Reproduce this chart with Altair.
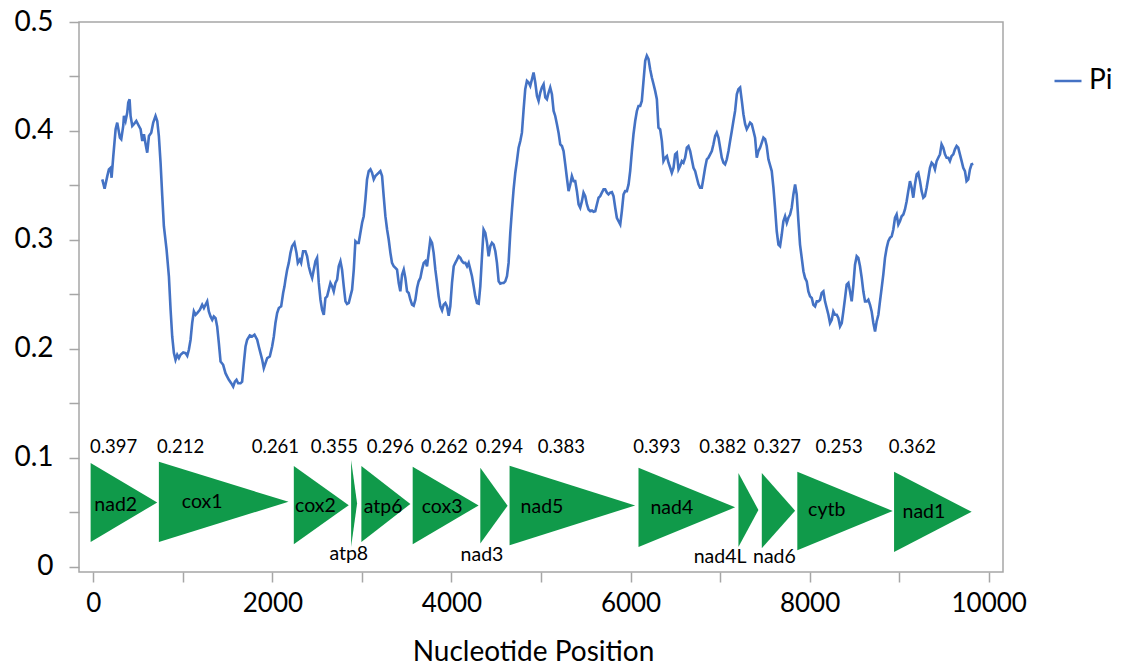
import altair as alt
import pandas as pd

# ---- nucleotide diversity (Pi) sliding window ----
position = [
    100, 126, 156, 174, 193, 204, 223, 249, 267, 297, 312, 334, 342, 360, 379, 390, 405, 416, 435, 453,
    480, 509, 528, 547, 565, 584, 602, 621, 647, 669, 695, 714, 732, 751, 770, 788, 818, 844, 863, 881,
    900, 918, 937, 956, 974, 1004, 1030, 1049, 1067, 1086, 1104, 1123, 1142, 1160, 1190, 1216, 1235, 1253, 1272, 1290,
    1309, 1328, 1346, 1365, 1383, 1402, 1421, 1450, 1476, 1495, 1514, 1540, 1562, 1581, 1599, 1618, 1644, 1662, 1681, 1700,
    1718, 1748, 1774, 1800, 1830, 1848, 1867, 1886, 1904, 1923, 1942, 1971, 1997, 2016, 2034, 2053, 2072, 2098, 2120, 2135,
    2146, 2165, 2183, 2202, 2220, 2246, 2269, 2284, 2306, 2321, 2343, 2369, 2388, 2406, 2425, 2444, 2462, 2481, 2499,
    2518, 2537, 2555, 2574, 2592, 2611, 2630, 2648, 2667, 2685, 2704, 2723, 2741, 2760, 2778, 2797, 2816, 2834, 2853, 2871,
    2890, 2909, 2927, 2946, 2964, 2983, 3002, 3020, 3039, 3057, 3076, 3095, 3113, 3132, 3150, 3169, 3188, 3206, 3225, 3243,
    3262, 3281, 3299, 3318, 3336, 3355, 3374, 3392, 3411, 3429, 3448, 3467, 3485, 3504, 3522, 3541, 3560, 3578, 3597, 3616,
    3634, 3653, 3671, 3690, 3709, 3727, 3746, 3764, 3783, 3801, 3820, 3839, 3857, 3876, 3895, 3913, 3932, 3950, 3969, 3987,
    4006, 4025, 4043, 4062, 4080, 4099, 4118, 4136, 4155, 4174, 4192, 4211, 4229, 4248, 4266, 4285, 4304, 4322, 4341, 4359,
    4378, 4397, 4415, 4434, 4452, 4471, 4490, 4508, 4527, 4545, 4564, 4583, 4601, 4620, 4638, 4657, 4676, 4694, 4713, 4731,
    4750, 4769, 4787, 4806, 4824, 4843, 4862, 4880, 4899, 4917, 4936, 4955, 4973, 4992, 5010,
    5029, 5048, 5066, 5085, 5103, 5122, 5141, 5159, 5178, 5196, 5215, 5234, 5252, 5271, 5289, 5308, 5327, 5345, 5364, 5382,
    5401, 5420, 5438, 5457, 5475, 5494, 5513, 5531, 5550, 5569, 5587, 5606, 5624, 5643, 5661, 5680, 5699, 5717, 5736, 5754,
    5773, 5792, 5810, 5829, 5847, 5866, 5885, 5903, 5922, 5940, 5959, 5978, 5996, 6015, 6033, 6052, 6071, 6089, 6108, 6126,
    6145, 6164, 6182, 6201, 6219, 6238, 6257, 6275, 6294, 6312, 6331, 6350, 6368, 6387, 6406, 6424, 6443, 6461, 6480, 6498,
    6517, 6536, 6554, 6573, 6591, 6610, 6629, 6647, 6666, 6684, 6703, 6722, 6740, 6759, 6777, 6796, 6815, 6833, 6852, 6870,
    6889, 6908, 6926, 6945, 6963, 6982, 7001, 7019, 7038, 7056, 7075, 7094, 7112, 7131, 7149, 7168, 7187, 7205, 7224, 7243,
    7261, 7280, 7298, 7317, 7335, 7354, 7373, 7391, 7410, 7428, 7447, 7466, 7484, 7503, 7521, 7540,
    7577, 7596, 7614, 7633, 7652, 7670, 7689, 7707, 7726, 7745, 7763, 7782, 7800, 7819, 7838, 7856, 7875, 7893, 7912, 7931,
    7949, 7968, 7986, 8005, 8024, 8042, 8061, 8080, 8098, 8117, 8135, 8154, 8172, 8191, 8210, 8228, 8247, 8265, 8284, 8303,
    8321, 8340, 8359, 8377, 8396, 8414, 8433, 8451, 8470, 8489, 8507, 8526, 8544, 8563, 8582, 8600, 8619, 8638, 8656, 8675,
    8693, 8712, 8731, 8749, 8768, 8786, 8805, 8823, 8842, 8861, 8879, 8898, 8917, 8935, 8954, 8972, 8991, 9009, 9028, 9047,
    9065, 9084, 9102, 9121, 9140, 9158, 9177, 9196, 9214, 9233, 9251, 9270, 9288, 9307, 9326, 9344, 9363, 9381, 9400, 9419,
    9437, 9456, 9474, 9493, 9512, 9530, 9549, 9567, 9586, 9605, 9623, 9642, 9660, 9679, 9698, 9716, 9735, 9753, 9772, 9791,
    9809, 9828,
]
pi = [
    0.3556, 0.347, 0.3586, 0.3648, 0.3663, 0.3571, 0.377, 0.4016, 0.4077, 0.3939, 0.3924, 0.4046, 0.4138, 0.4092, 0.4169, 0.4261, 0.4291, 0.4138, 0.4046, 0.4062,
    0.4092, 0.4046, 0.4016, 0.3908, 0.397, 0.3878, 0.3801, 0.3954, 0.3985, 0.4077, 0.4138, 0.4092, 0.3954, 0.3709, 0.3402, 0.3126, 0.2912, 0.2667, 0.236, 0.2115,
    0.1962, 0.1901, 0.1947, 0.1916, 0.1947, 0.1968, 0.1962, 0.1937, 0.1993, 0.2085, 0.2238, 0.2345, 0.2314, 0.233, 0.236, 0.2406, 0.2376, 0.2406, 0.2437, 0.2345,
    0.2299, 0.2268, 0.2299, 0.2284, 0.2207, 0.2054, 0.1885, 0.1855, 0.1778, 0.1747, 0.1717, 0.1686, 0.1655, 0.1701, 0.1717, 0.1686, 0.1686, 0.1701, 0.187, 0.2023,
    0.2085, 0.2124, 0.2115, 0.2131, 0.2085, 0.2023, 0.1962, 0.1901, 0.1824, 0.187, 0.1916, 0.1931, 0.2023, 0.2115, 0.2238, 0.233, 0.2376, 0.2391, 0.2514, 0.2575,
    0.2636, 0.2728, 0.279, 0.2882, 0.2943, 0.2974, 0.2882, 0.279, 0.282, 0.279, 0.2897, 0.2897, 0.2851, 0.2759, 0.2698, 0.2652, 0.2728, 0.2805, 0.2836,
    0.2606, 0.2452, 0.236, 0.2314, 0.2468, 0.2483, 0.2544, 0.2606, 0.2575, 0.2529, 0.2606, 0.2636, 0.2759, 0.2805, 0.2728, 0.2575, 0.2437, 0.2413, 0.2422, 0.2483,
    0.2544, 0.2728, 0.2989, 0.2974, 0.2974, 0.3066, 0.3158, 0.3218, 0.3372, 0.3556, 0.3632, 0.3648, 0.3617, 0.3556, 0.3586, 0.3602, 0.3617, 0.3632, 0.3586, 0.3402,
    0.3218, 0.3096, 0.3004, 0.2882, 0.279, 0.2759, 0.2744, 0.2728, 0.2606, 0.2529, 0.2682, 0.2728, 0.2652, 0.2529, 0.2514, 0.2452, 0.2406, 0.2397, 0.2452, 0.256,
    0.2621, 0.2652, 0.2728, 0.279, 0.2805, 0.2759, 0.2882, 0.3004, 0.2974, 0.2882, 0.2728, 0.2606, 0.2483, 0.2391, 0.2354, 0.2406, 0.2422, 0.2391, 0.2305, 0.2391,
    0.2606, 0.2759, 0.279, 0.282, 0.2851, 0.2836, 0.2805, 0.279, 0.279, 0.2759, 0.279, 0.2728, 0.2667, 0.2575, 0.2483, 0.2422, 0.2416, 0.2575, 0.2851, 0.3096,
    0.3066, 0.2974, 0.2851, 0.2943, 0.2974, 0.2958, 0.2897, 0.279, 0.2621, 0.26, 0.2606, 0.2606, 0.2621, 0.2667, 0.279, 0.3066, 0.328, 0.3464, 0.3617, 0.3724,
    0.3847, 0.3908, 0.3985, 0.42, 0.4383, 0.446, 0.4445, 0.4414, 0.4475, 0.4537, 0.4445, 0.4322, 0.4276, 0.4353, 0.4399,
    0.4429, 0.4307, 0.4291, 0.4353, 0.4399, 0.4337, 0.4184, 0.4138, 0.4062, 0.3985, 0.3878, 0.3862, 0.3816, 0.3694, 0.3571, 0.3448, 0.351, 0.3586, 0.354, 0.354,
    0.3448, 0.3326, 0.3296, 0.3356, 0.3434, 0.3402, 0.3326, 0.328, 0.3264, 0.3271, 0.3259, 0.3264, 0.3326, 0.3388, 0.3402, 0.3434, 0.3464, 0.3464, 0.3434, 0.3418,
    0.3434, 0.3439, 0.3402, 0.3296, 0.3204, 0.3172, 0.3142, 0.3264, 0.3418, 0.3448, 0.3448, 0.351, 0.3632, 0.3816, 0.397, 0.4092, 0.4184, 0.423, 0.423, 0.4276,
    0.446, 0.4644, 0.469, 0.4659, 0.4567, 0.4491, 0.4429, 0.4368, 0.4291, 0.4031, 0.4016, 0.3908, 0.3724, 0.3755, 0.377, 0.3709, 0.3663, 0.3617, 0.3663, 0.3786,
    0.3801, 0.3648, 0.3678, 0.3724, 0.3709, 0.3755, 0.3847, 0.3862, 0.3816, 0.374, 0.3663, 0.3632, 0.3571, 0.351, 0.348, 0.348, 0.3571, 0.3663, 0.374, 0.3755,
    0.3786, 0.3816, 0.3878, 0.3954, 0.3985, 0.3939, 0.3847, 0.3755, 0.3709, 0.3694, 0.374, 0.3816, 0.3908, 0.4, 0.4092, 0.4184, 0.4337, 0.4383, 0.4399, 0.4276,
    0.4154, 0.4062, 0.4016, 0.4046, 0.4077, 0.4062, 0.4, 0.3939, 0.3755, 0.3816, 0.3847, 0.3893, 0.3939, 0.3924, 0.3862, 0.374,
    0.3632, 0.348, 0.3296, 0.308, 0.2958, 0.2943, 0.305, 0.3172, 0.3218, 0.3158, 0.3204, 0.3234, 0.3296, 0.3418, 0.351, 0.3418, 0.3172, 0.2958, 0.2836, 0.2713,
    0.2652, 0.2621, 0.2529, 0.2483, 0.2468, 0.2406, 0.2391, 0.2437, 0.2437, 0.2452, 0.2514, 0.2529, 0.2437, 0.2376, 0.2314, 0.2238, 0.2268, 0.2345, 0.2314, 0.2314,
    0.2284, 0.2207, 0.2238, 0.2345, 0.2468, 0.259, 0.2606, 0.2529, 0.2437, 0.259, 0.2774, 0.2851, 0.2836, 0.2759, 0.2652, 0.2529, 0.2437, 0.2437, 0.2452, 0.2406,
    0.2345, 0.2238, 0.2161, 0.2253, 0.2314, 0.2437, 0.256, 0.2682, 0.2836, 0.2928, 0.2989, 0.302, 0.3034, 0.3096, 0.3204, 0.3234, 0.3142, 0.3172, 0.3218, 0.3234,
    0.328, 0.3356, 0.3448, 0.354, 0.348, 0.3388, 0.351, 0.3602, 0.3617, 0.354, 0.3448, 0.3388, 0.3402, 0.348, 0.3571, 0.3663, 0.3709, 0.3694, 0.3648, 0.3724,
    0.3755, 0.3786, 0.3878, 0.3847, 0.3786, 0.3755, 0.3755, 0.3724, 0.377, 0.3786, 0.3832, 0.3862, 0.3847, 0.3786, 0.3724, 0.3663, 0.3632, 0.354, 0.3556, 0.3648,
    0.3694, 0.37,
]

# ---- genes (arrow triangles) ----
genes = ["nad2", "cox1", "cox2", "atp8", "atp6", "cox3", "nad3", "nad5", "nad4", "nad4L", "nad6", "cytb", "nad1"]
gene_start = [-30, 732, 2239, 2879, 2994, 3567, 4322, 4649, 6089, 7205, 7466, 7863, 8943]
gene_end = [714, 2180, 2853, 2946, 3541, 4303, 4627, 6052, 7168, 7428, 7838, 8928, 9810]
gene_top = [0.0954, 0.0966, 0.0926, 0.0981, 0.0926, 0.0920, 0.0910, 0.0929, 0.0910, 0.0862, 0.0862, 0.0874, 0.0874]
gene_bottom = [0.0230, 0.0230, 0.0209, 0.0184, 0.0230, 0.0209, 0.0215, 0.0200, 0.0184, 0.0184, 0.0172, 0.0154, 0.0138]

# gene-name labels
name_x = [250, 1216, 2481, 2853, 3236, 3895, 4341, 5011, 6462, 7000, 7607, 8191, 9277]
name_y = [0.0567, 0.0598, 0.0558, 0.0123, 0.0549, 0.0549, 0.0108, 0.0549, 0.0540, 0.0092, 0.0092, 0.0521, 0.0506]

# Pi value labels above genes
pi_text = ["0.397", "0.212", "0.261", "0.355", "0.296", "0.262", "0.294", "0.383", "0.393", "0.382", "0.327", "0.253", "0.362"]
pi_text_x = [227, 974, 2034, 2693, 3318, 3920, 4534, 5227, 6294, 7031, 7640, 8329, 9147]
pi_text_y = [0.1103] * 13

FONT = "Lato"
XDOM = [-160, 10160]
YDOM = [-0.0046, 0.5]

line_df = pd.DataFrame({"pos": position, "pi": pi, "series": "Pi"})

tri_rows = []
for g, s, e, t, b in zip(genes, gene_start, gene_end, gene_top, gene_bottom):
    mid = (t + b) / 2
    tri_rows.append({"gene": g, "pos": s, "pi": b, "pi2": t})
    tri_rows.append({"gene": g, "pos": e, "pi": mid, "pi2": mid})
tri_df = pd.DataFrame(tri_rows)

names_df = pd.DataFrame({"gene": genes, "pos": name_x, "pi": name_y})
pit_df = pd.DataFrame({"t": pi_text, "pos": pi_text_x, "pi": pi_text_y})

xs = alt.Scale(domain=XDOM, nice=False, zero=False)
ys = alt.Scale(domain=YDOM, nice=False, zero=False)

x_enc = alt.X("pos:Q", scale=xs, title="Nucleotide Position",
              axis=alt.Axis(values=list(range(0, 10001, 1000)),
                            labelExpr="datum.value % 2000 == 0 ? format(datum.value, 'd') : ''",
                            labelFontSize=26, labelPadding=8, titlePadding=22,
                            titleFontSize=28, titleX=454))
y_enc = alt.Y("pi:Q", scale=ys, title=None,
              axis=alt.Axis(values=[i * 0.05 for i in range(11)],
                            labelExpr="round(datum.value * 20) % 2 == 0 ? format(datum.value, '.1~f') : ''",
                            labelFontSize=28, labelPadding=16))

line = alt.Chart(line_df).mark_line(strokeWidth=2.6, interpolate="linear").encode(
    x=x_enc,
    y=y_enc,
    color=alt.Color("series:N", scale=alt.Scale(range=["#4472C4"]),
                    legend=alt.Legend(title=None, orient="none", legendX=974, legendY=44,
                                      symbolType="stroke", symbolSize=729, symbolStrokeWidth=2.5,
                                      labelFont=FONT, labelFontSize=28, labelColor="black",
                                      labelOffset=6)),
)

tri = alt.Chart(tri_df).mark_area(color="#109A4A", opacity=1, interpolate="linear").encode(
    x=x_enc,
    y=y_enc,
    y2="pi2:Q",
    detail="gene:N",
)

names = alt.Chart(names_df).mark_text(font=FONT, fontSize=19.5, color="black").encode(
    x=x_enc,
    y=y_enc,
    text="gene:N",
)

pitext = alt.Chart(pit_df).mark_text(font=FONT, fontSize=18.5, color="black").encode(
    x=x_enc,
    y=y_enc,
    text="t:N",
)

chart = alt.layer(line, tri, names, pitext).properties(
    width=924, height=550,
    autosize=alt.AutoSizeParams(type="none"),
    padding={"left": 79, "top": 22, "right": 126, "bottom": 95},
    background="white",
).configure_view(
    stroke="#A6A6A6", strokeWidth=1.5,
).configure_axis(
    domain=False, grid=False, ticks=True, tickColor="#A6A6A6", tickWidth=1.5, tickSize=10,
    labelFont=FONT, labelColor="black", titleFont=FONT, titleColor="black", titleFontWeight="normal",
)

chart.save("out.html", embed_options={"renderer": "svg", "actions": False})
